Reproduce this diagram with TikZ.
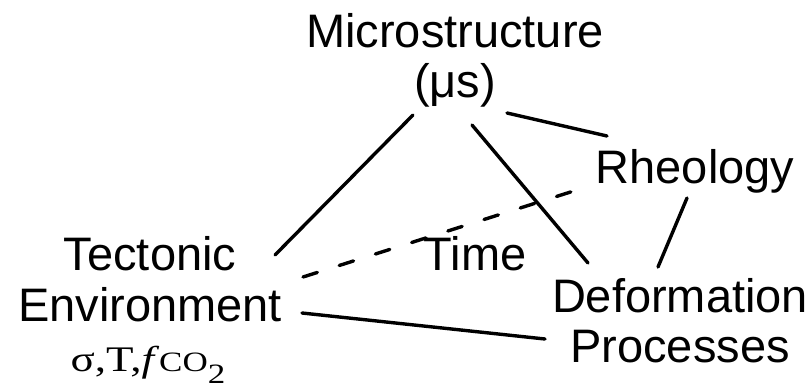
\documentclass[tikz,border=0pt]{standalone}
\usepackage{fontspec}
\usepackage{graphicx}
\setmainfont{Liberation Sans}
\newfontfamily\paramfont{Liberation Serif}
\usetikzlibrary{calc}
\tikzset{
  term/.style     = {inner sep=0pt, align=center,
                     font=\fontsize{23.5}{25.3}\selectfont},
  link/.style     = {line width=1.7pt, line cap=round, draw=black},
  timelink/.style = {link, dash pattern=on 7.5pt off 11.5pt}
}
\begin{document}
\begin{tikzpicture}[x=0.5pt, y=-0.5pt]
  \useasboundingbox (0,0) rectangle (812,390);
  % the four corners
  \node[term] (micro)  at (455,60.5) {Microstructure\\(μs)};
  \node[term, anchor=base] (rheo) at (695,183) {Rheology};
  \node[term] (tect)   at (150,279) {Tectonic\\Environment};
  \node[term] (deform) at (680,320.5) {Deformation\\Processes};
  \node[term, anchor=base] (time) at (475,270) {Time};
  \node[anchor=base, inner sep=0pt] (tparams) at (148,371)
       {\scalebox{1.25}[1]{\paramfont\fontsize{18}{18}\selectfont
        σ,T,\textit{f}{\fontsize{14}{14}\selectfont
        CO\raisebox{-6pt}{2}}}};
  % connectors
  \draw[link] ($(micro.center)+(-42,54.5)$) -- ($(tect.center)+(125,-24)$);
  \draw[link] ($(micro.center)+(17,64.5)$) -- ($(deform.center)+(-92,-57.5)$);
  \draw[link] ($(micro.center)+(52,52.5)$) -- ($(rheo.base)+(-88,-47)$);
  \draw[link] ($(rheo.base)+(-8,15)$) -- ($(deform.center)+(-22,-53.5)$);
  \draw[link] ($(tect.center)+(152,34)$) -- ($(deform.center)+(-135,18.5)$);
  \draw[timelink] ($(tect.center)+(153,-2)$) -- ($(rheo.base)+(-115,6)$);
\end{tikzpicture}
\end{document}
